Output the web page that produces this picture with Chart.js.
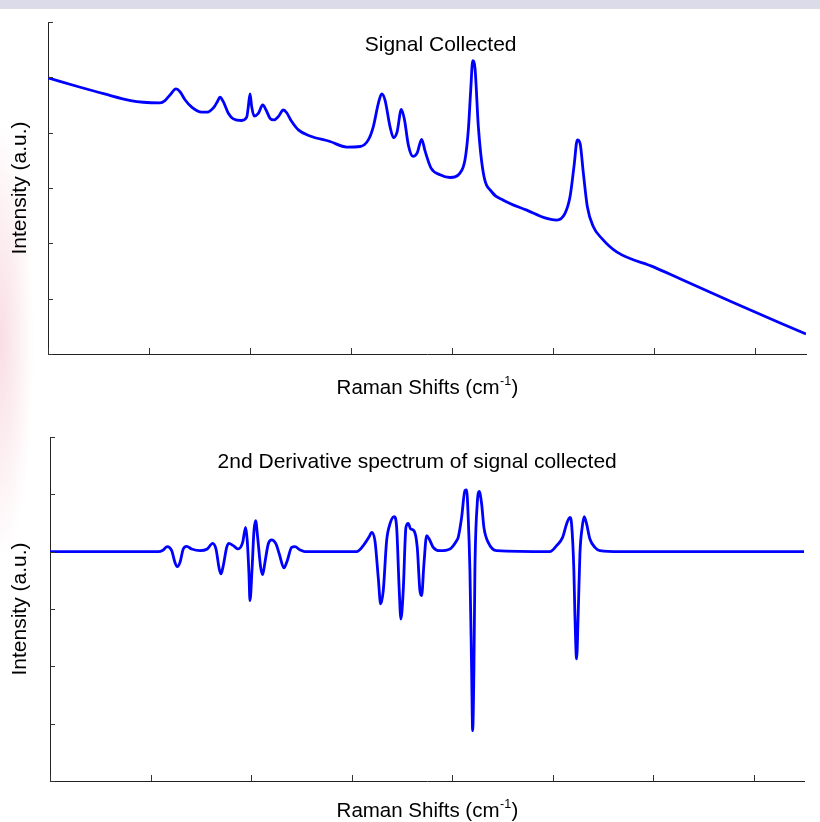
<!DOCTYPE html>
<html>
<head>
<meta charset="utf-8">
<script src="https://cdn.jsdelivr.net/npm/chart.js@4.4.1/dist/chart.umd.min.js"></script>
<style>
  html, body { margin: 0; padding: 0; background: #fff; }
  body { width: 820px; height: 822px; position: relative; overflow: hidden; }
  .wm-top  { position: absolute; left: 0; top: 0; width: 820px; height: 9px; background: #dcdbea; }
  .wm-left { position: absolute; left: 0; top: 0; width: 80px; height: 822px;
             background: radial-gradient(ellipse 34px 220px at 0 340px, rgba(236,150,165,0.32), rgba(255,255,255,0)); }
  .box { position: absolute; left: 0; width: 820px; height: 411px; }
  #boxTop { top: 0; }
  #boxBot { top: 411px; }
</style>
</head>
<body>
<div class="wm-top"></div>
<div class="wm-left"></div>
<div class="box" id="boxTop"><canvas id="signal" width="820" height="411"></canvas></div>
<div class="box" id="boxBot"><canvas id="deriv" width="820" height="411"></canvas></div>
<script>
(function () {
  // tick positions (no labels are shown on the original)
  const X_TICKS = [200, 400, 600, 800, 1000, 1200, 1400, 1600];
  const Y_TICKS_SIGNAL = [0, 10, 20, 30, 40, 50, 60];
  const Y_TICKS_DERIV  = [-40, -30, -20, -10, 0, 10, 20];

  // raw spectrum
  const signalShift = [200, 260.4, 312.0, 363.7, 388.6, 421.6, 431.5, 441.4, 453.3, 461.2,
    471.5, 484.4, 504.2, 515.3, 528.5, 535.1, 540.4, 546.9, 556.8, 566.7,
    583.3, 593.2, 596.4, 599.8, 603.1, 607.7, 616.2, 624.9, 631.5, 639.3,
    647.3, 655.8, 665.7, 672.4, 682.3, 695.4, 718.5, 758.1, 791.1, 817.5,
    833.9, 843.8, 853.7, 860.4, 866.9, 876.8, 883.8, 890.7, 899.2, 905.5,
    913.0, 922.3, 930.3, 939.5, 946.1, 958.0, 975.8, 995.6, 1015.3, 1025.2,
    1031.8, 1036.5, 1040.5, 1045.0, 1051.6, 1061.5, 1078.1, 1101.1, 1147.4, 1186.9,
    1206.7, 1223.1, 1233.0, 1240.9, 1247.5, 1252.8, 1259.4, 1267.3, 1279.2, 1295.8,
    1326.1, 1399.3, 1450.7, 1553.6, 1700];
  const signalIntensity = [49.9, 48.3, 47.0, 45.8, 45.5, 45.4, 45.8, 46.8, 47.9, 47.4,
    45.9, 44.6, 43.7, 43.7, 44.6, 45.6, 46.4, 45.6, 43.5, 42.5,
    42.2, 42.8, 44.7, 47.0, 44.7, 43.0, 43.5, 45.0, 44.1, 42.6,
    42.3, 42.9, 44.1, 43.6, 42.0, 40.5, 39.4, 38.4, 37.4, 37.5,
    38.7, 41.1, 45.3, 47.0, 45.9, 41.1, 39.1, 40.1, 44.2, 42.3,
    37.8, 35.7, 36.3, 38.8, 36.7, 33.6, 32.4, 31.9, 32.7, 35.1,
    40.5, 47.7, 53.0, 51.6, 41.1, 32.7, 29.3, 27.8, 26.0, 24.5,
    24.2, 25.4, 28.4, 33.9, 38.7, 38.1, 32.7, 26.6, 23.0, 20.9,
    18.4, 15.7, 13.6, 9.4, 3.6];

  // 2nd derivative spectrum
  const derivShift = [200, 415.4, 424.7, 433.3, 442.1, 448.6, 453.2, 458.6, 465.1, 471.9,
    481.8, 498.4, 512.9, 523.6, 530.2, 536.7, 540.1, 544.7, 551.5, 556.0,
    564.6, 574.5, 583.3, 589.2, 592.4, 595.8, 597.8, 601.8, 605.8, 609.1,
    613.1, 619.1, 623.1, 627.6, 634.2, 641.0, 649.5, 656.1, 665.4, 672.0,
    680.7, 687.3, 697.3, 707.2, 810.0, 823.2, 835.1, 839.9, 846.4, 853.0,
    857.8, 863.0, 869.7, 876.3, 884.8, 889.6, 894.8, 898.1, 902.7, 908.1,
    912.7, 917.4, 924.0, 930.6, 935.9, 939.3, 943.9, 949.3, 954.4, 962.4,
    975.7, 995.6, 1008.9, 1012.1, 1018.9, 1025.4, 1028.8, 1032.0, 1035.4, 1038.8,
    1040.8, 1043.3, 1045.3, 1049.9, 1053.9, 1058.7, 1063.2, 1071.8, 1088.5, 1194.5,
    1207.8, 1219.8, 1227.7, 1234.3, 1237.6, 1242.2, 1244.2, 1247.6, 1250.8, 1254.2,
    1258.7, 1262.7, 1267.5, 1274.1, 1284.0, 1294.0, 1333.7, 1700];
  const derivIntensity = [0, 0, 0.26, 0.87, 0.17, -1.87, -2.62, -1.87, 0.47, 0.92,
    0.47, 0.17, 0.47, 1.45, 0.47, -3.02, -3.89, -2.44, 0.75, 1.45,
    1.05, 0.47, 1.62, 4.24, 1.92, -3.89, -8.55, -3.31, 3.66, 5.41,
    2.49, -2.74, -4.01, -1.87, 1.34, 2.04, 1.34, -0.40, -2.84, -1.57,
    0.75, 0.87, 0.30, 0, 0, 1.05, 2.62, 3.37, 1.92, -4.48,
    -9.12, -6.80, 1.92, 4.83, 6.10, 4.24, -6.80, -11.74, -6.80, 4.24,
    4.94, 3.96, 3.66, 0.75, -6.80, -7.67, -2.15, 2.79, 2.21, 0.75,
    0.17, 0.47, 1.92, 2.49, 5.98, 10.64, 10.76, 5.98, -3.31, -20.75,
    -31.22, -20.75, -3.31, 8.32, 10.52, 8.32, 4.24, 1.62, 0.17, 0,
    1.05, 2.49, 4.83, 5.98, 4.83, -3.31, -10.87, -18.71, -10.87, -0.40,
    4.24, 6.10, 4.83, 2.21, 0.75, 0.17, 0, 0];

  const FONT = '"Liberation Sans", Arial, Helvetica, sans-serif';

  // MATLAB-style ticks pointing into the plot
  const inwardTicks = {
    id: 'inwardTicks',
    afterDraw(chart) {
      const { ctx, chartArea: a, scales: { x, y } } = chart;
      ctx.save();
      ctx.strokeStyle = '#333';
      ctx.lineWidth = 1;
      ctx.beginPath();
      x.ticks.forEach(t => {
        const px = Math.round(x.getPixelForValue(t.value)) + 0.5;
        ctx.moveTo(px, a.bottom);
        ctx.lineTo(px, a.bottom - 6);
      });
      y.ticks.forEach(t => {
        const py = Math.round(y.getPixelForValue(t.value)) + 0.5;
        ctx.moveTo(a.left, py);
        ctx.lineTo(a.left + 5, py);
      });
      ctx.stroke();
      ctx.restore();
    },
  };

  // title inside the axes + x label with a real superscript
  const plotText = {
    id: 'plotText',
    afterDraw(chart, args, opts) {
      const { ctx, chartArea: a } = chart;
      ctx.save();
      ctx.fillStyle = '#000';
      ctx.textBaseline = 'alphabetic';
      ctx.textAlign = 'center';
      ctx.font = '21px ' + FONT;
      ctx.fillText(opts.title, a.left + opts.titleAt * (a.right - a.left), a.top + opts.titleDy);

      const main = 'Raman Shifts (cm', sup = '-1', close = ')';
      ctx.font = '20.5px ' + FONT;
      const w1 = ctx.measureText(main).width;
      const w3 = ctx.measureText(close).width;
      ctx.font = '12.5px ' + FONT;
      const w2 = ctx.measureText(sup).width;
      const base = a.bottom + opts.labelDy;
      let x0 = (a.left + a.right) / 2 - (w1 + w2 + w3) / 2;
      ctx.textAlign = 'left';
      ctx.font = '20.5px ' + FONT;
      ctx.fillText(main, x0, base);
      ctx.fillText(close, x0 + w1 + w2 + 1, base);
      ctx.font = '12.5px ' + FONT;
      ctx.fillText(sup, x0 + w1 + 0.5, base - 9);
      ctx.restore();
    },
  };

  function makeChart(id, xs, ys, yTicks, box) {
    const h = 411;
    return new Chart(document.getElementById(id), {
      type: 'line',
      data: {
        datasets: [{
          data: xs.map((x, i) => ({ x, y: ys[i] })),
          borderColor: '#0000ff',
          borderWidth: 2.8,
          pointRadius: 0,
          fill: false,
          cubicInterpolationMode: 'monotone',
        }],
      },
      options: {
        responsive: false,
        animation: false,
        devicePixelRatio: 1,
        layout: { padding: { top: box.top, right: box.right, left: 0, bottom: 0 } },
        scales: {
          x: {
            type: 'linear', min: 200, max: 1700,
            afterBuildTicks: s => { s.ticks = X_TICKS.map(value => ({ value })); },
            afterFit: s => { s.height = h - box.bottom; },
            ticks: { display: false },
            grid: { display: false, drawTicks: false },
            border: { display: true, color: '#222', width: 1 },
          },
          y: {
            type: 'linear', min: yTicks[0], max: yTicks[yTicks.length - 1],
            afterBuildTicks: s => { s.ticks = yTicks.map(value => ({ value })); },
            afterFit: s => { s.width = box.left; },
            ticks: { display: false },
            grid: { display: false, drawTicks: false },
            border: { display: true, color: '#222', width: 1 },
            title: {
              display: true, text: 'Intensity (a.u.)', color: '#000',
              font: { family: FONT, size: 21 },
              padding: { top: 8, bottom: 0 },
            },
          },
        },
        plugins: {
          legend: { display: false },
          tooltip: { enabled: false },
          plotText: box.text,
        },
      },
      plugins: [inwardTicks, plotText],
    });
  }

  makeChart('signal', signalShift, signalIntensity, Y_TICKS_SIGNAL, {
    top: 22, bottom: 354, left: 48, right: 14,
    text: { title: 'Signal Collected', titleAt: 0.518, titleDy: 29, labelDy: 40 },
  });

  makeChart('deriv', derivShift, derivIntensity, Y_TICKS_DERIV, {
    top: 26, bottom: 370, left: 50, right: 16,
    text: { title: '2nd Derivative spectrum of signal collected', titleAt: 0.487, titleDy: 31, labelDy: 36 },
  });
})();
</script>
</body>
</html>
